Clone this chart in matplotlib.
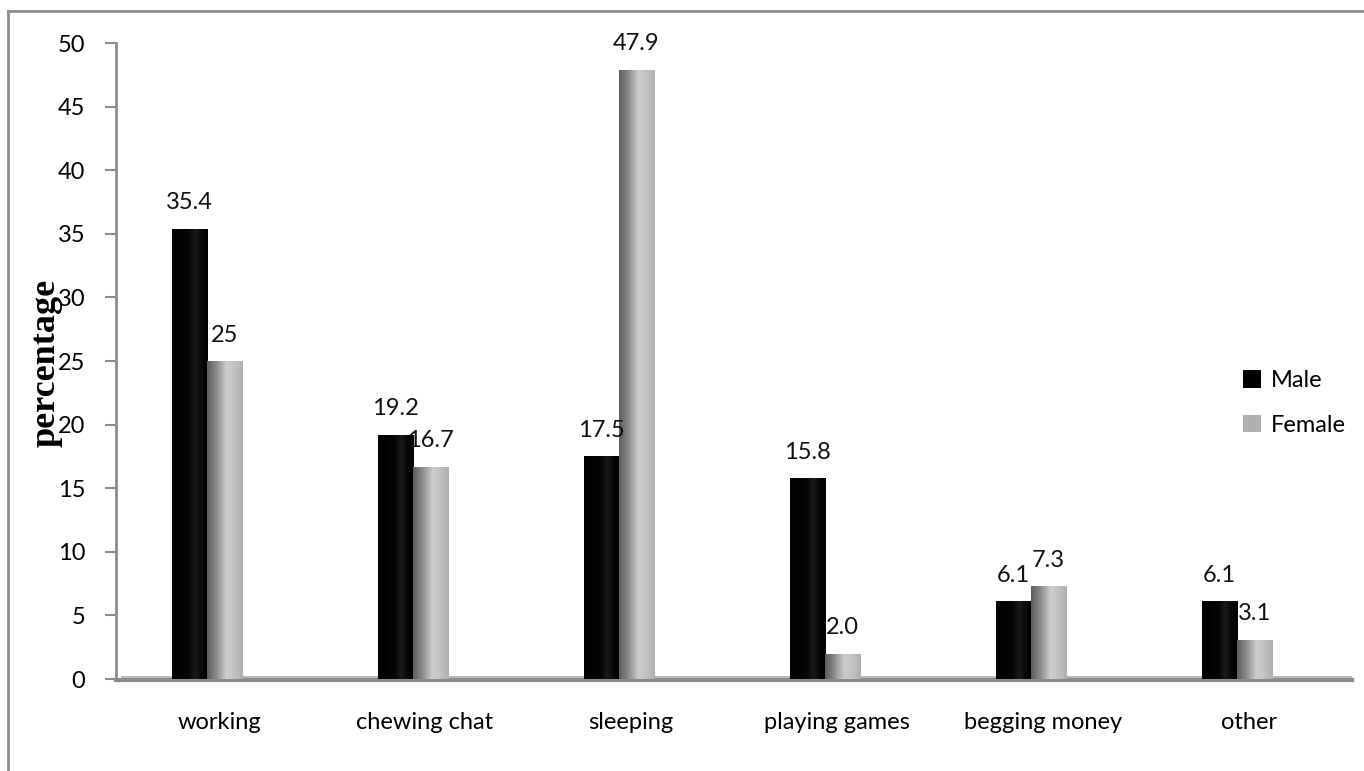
import numpy as np
import matplotlib
matplotlib.use("Agg")
import matplotlib.pyplot as plt
from matplotlib.colors import LinearSegmentedColormap
from matplotlib.patches import Patch
from matplotlib.lines import Line2D

# =====================================================
# DATA
# =====================================================
categories = ["working", "chewing chat", "sleeping", "playing games", "begging money", "other"]
male = [35.4, 19.2, 17.5, 15.8, 6.1, 6.1]
female = [25, 16.7, 47.9, 2.0, 7.3, 3.1]
male_labels = ["35.4", "19.2", "17.5", "15.8", "6.1", "6.1"]
female_labels = ["25", "16.7", "47.9", "2.0", "7.3", "3.1"]
yticks = [0, 5, 10, 15, 20, 25, 30, 35, 40, 45, 50]

# =====================================================
# STYLE
# =====================================================
plt.rcParams["font.family"] = ["Lato", "DejaVu Sans"]
FS = 17
BAR_W = 0.17
SHIFT = -0.06  # efeito 3D do Excel: barras deslocadas p/ esquerda
AXIS_GRAY = "#8c8c8c"

cmap_male = LinearSegmentedColormap.from_list(
    "male", [(0, "#000000"), (0.45, "#050505"), (0.65, "#1a1a1a"), (0.85, "#050505"), (1, "#000000")])
cmap_female = LinearSegmentedColormap.from_list(
    "female", [(0, "#5e5e5e"), (0.25, "#8a8a8a"), (0.55, "#cdcdcd"), (0.8, "#c0c0c0"), (1, "#b0b0b0")])

fig = plt.figure(figsize=(13.64, 7.71), dpi=100)
ax = fig.add_axes([116 / 1364, 92 / 771, 1236 / 1364, 636 / 771])

x = np.arange(len(categories))
grad = np.linspace(0, 1, 64).reshape(1, -1)


def gradient_bars(xpos, vals, cmap):
    bars = ax.bar(xpos, vals, width=BAR_W, color="none", edgecolor="none", zorder=3)
    for b in bars:
        x0, y0 = b.get_x(), b.get_y()
        im = ax.imshow(grad, cmap=cmap, aspect="auto", zorder=3,
                       extent=[x0, x0 + b.get_width(), y0, y0 + b.get_height()],
                       vmin=0, vmax=1, interpolation="bilinear")
        im.set_clip_path(b)
    return bars


gradient_bars(x + SHIFT - BAR_W / 2, male, cmap_male)
gradient_bars(x + SHIFT + BAR_W / 2, female, cmap_female)

for xi, v, lab in zip(x + SHIFT - BAR_W / 2, male, male_labels):
    ax.annotate(lab, (xi, v), xytext=(0, 11), textcoords="offset points",
                ha="center", va="bottom", fontsize=FS, color="#111111")
for xi, v, lab in zip(x + SHIFT + BAR_W / 2, female, female_labels):
    ax.annotate(lab, (xi, v), xytext=(0, 11), textcoords="offset points",
                ha="center", va="bottom", fontsize=FS, color="#111111")

ax.set_xlim(-0.5, len(categories) - 0.5)
ax.set_ylim(0, 50)
ax.set_yticks(yticks)
ax.set_yticklabels([str(t) for t in yticks], fontsize=FS)
ax.set_xticks(x)
ax.set_xticklabels(categories, fontsize=FS)

# piso 3D
ax.axhline(0.15, color="#bdbdbd", lw=1.5, zorder=2, xmin=0.005)
ax.axhline(-0.1, color=AXIS_GRAY, lw=3, zorder=2, clip_on=False)

for s in ["top", "right", "bottom"]:
    ax.spines[s].set_visible(False)
ax.spines["left"].set_color(AXIS_GRAY)
ax.spines["left"].set_linewidth(2)
ax.tick_params(axis="y", color=AXIS_GRAY, length=8, width=1.5, pad=14)
ax.tick_params(axis="x", length=0, pad=24)

ax.set_ylabel("percentage", fontsize=26, fontweight="bold",
              family=["Liberation Serif", "DejaVu Serif"])
ax.yaxis.set_label_coords(-0.043, 0.497)

handles = [Patch(facecolor="#000000", label="Male"),
           Patch(facecolor="#b0b0b0", label="Female")]
ax.legend(handles=handles, loc="center left", bbox_to_anchor=(0.912, 0.434),
          frameon=False, fontsize=FS, handlelength=0.75, handleheight=0.75,
          handletextpad=0.4, labelspacing=1.0, borderpad=0, borderaxespad=0)

# moldura externa
fig.add_artist(Line2D([8 / 1364, 8 / 1364], [0, 760 / 771], color=AXIS_GRAY, lw=2))
fig.add_artist(Line2D([8 / 1364, 1], [760 / 771, 760 / 771], color=AXIS_GRAY, lw=2))

fig.savefig("out.png", dpi=100)
